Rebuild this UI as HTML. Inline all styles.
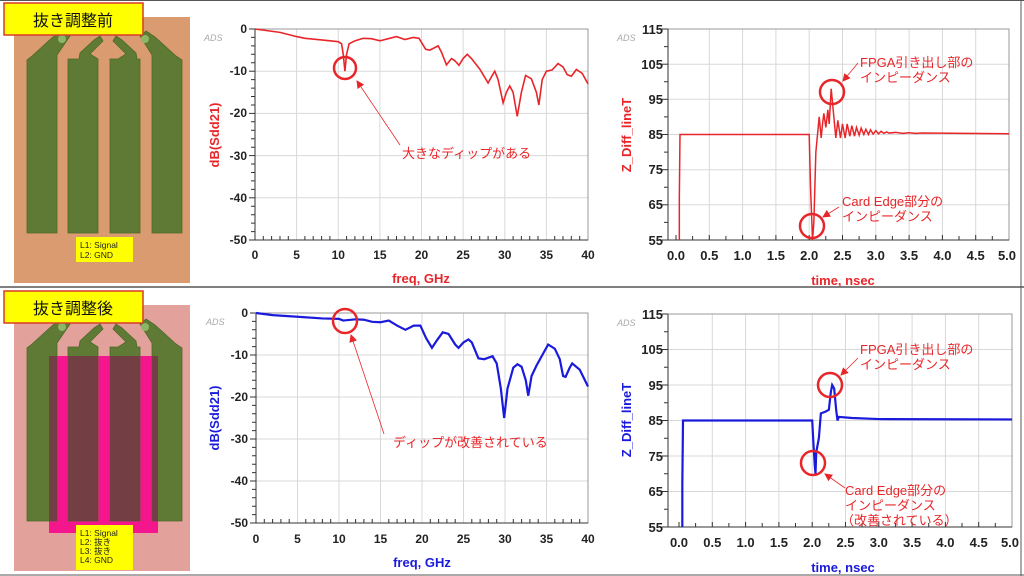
<!DOCTYPE html>
<html><head><meta charset="utf-8"><style>
html,body{margin:0;padding:0;background:#fff;}
svg{display:block;font-family:"Liberation Sans","Noto Sans CJK JP",sans-serif;}
.tk{font-size:12px;font-weight:bold;fill:#222;}
.an{font-size:13px;fill:#e8262a;}
.grid line{stroke:#d8d8d8;stroke-width:1;}
</style></head><body>
<svg width="1024" height="576" viewBox="0 0 1024 576" xmlns="http://www.w3.org/2000/svg">
<defs>
<marker id="ah" markerWidth="8" markerHeight="8" refX="7" refY="4" orient="auto" markerUnits="userSpaceOnUse"><path d="M0,0 L8,4 L0,8 z" fill="#e8262a"/></marker>
</defs>
<rect x="0" y="0" width="1024" height="576" fill="#fff"/>
<line x1="0" y1="0.5" x2="1024" y2="0.5" stroke="#555"/>
<line x1="0" y1="287" x2="1024" y2="287" stroke="#555" stroke-width="1.5"/>
<line x1="0" y1="575" x2="1024" y2="575" stroke="#555"/>
<line x1="1021" y1="0" x2="1021" y2="576" stroke="#555"/>

<!-- PCB top -->
<g>
<rect x="14" y="17" width="176" height="266" fill="#d99b6f"/>
<g fill="#5f7a34" stroke="#4e6a2a" stroke-width="0.8">
<polygon points="27,233 27,60 32,56 53,37 62,31 70,36 57,55 57,233"/>
<polygon points="68,233 68,59 79,59 80,53 94,40 100,36 103,41 90,54 98,59 98,233"/>
<polygon points="110,233 110,59 118,59 126,54 113,41 116,36 122,40 136,53 137,59 140,59 140,233"/>
<polygon points="152,233 152,55 140,36 146,31 155,37 176,56 182,60 182,233"/>
</g>
<circle cx="62" cy="39" r="4" fill="#8cb766"/>
<circle cx="145" cy="39" r="4" fill="#8cb766"/>
<rect x="76" y="237" width="57" height="25" fill="#ffff00"/>
<text x="80" y="248" font-size="8.5" fill="#222">L1: Signal</text>
<text x="80" y="258" font-size="8.5" fill="#222">L2: GND</text>
<rect x="4" y="3" width="139" height="32" fill="#ffff00" stroke="#d93a2a" stroke-width="1.5"/>
<text x="73" y="26" font-size="16" text-anchor="middle" fill="#111">抜き調整前</text>
</g>

<!-- PCB bottom -->
<g>
<rect x="14" y="305" width="176" height="266" fill="#e2a19b"/>
<rect x="49" y="356" width="109" height="177" fill="#f5168e"/>
<g fill="#5f7a34" stroke="#4e6a2a" stroke-width="0.8">
<polygon points="27,521 27,348 32,344 53,325 62,319 70,324 57,343 57,521"/>
<polygon points="68,521 68,347 79,347 80,341 94,328 100,324 103,329 90,342 98,347 98,521"/>
<polygon points="110,521 110,347 118,347 126,342 113,329 116,324 122,328 136,341 137,347 140,347 140,521"/>
<polygon points="152,521 152,343 140,324 146,319 155,325 176,344 182,348 182,521"/>
</g>
<g fill="#733f44">
<rect x="49" y="356" width="8" height="165"/>
<rect x="68" y="356" width="30" height="165"/>
<rect x="110" y="356" width="30" height="165"/>
<rect x="152" y="356" width="6" height="165"/>
</g>
<circle cx="62" cy="327" r="4" fill="#8cb766"/>
<circle cx="145" cy="327" r="4" fill="#8cb766"/>
<rect x="76" y="525" width="57" height="45" fill="#ffff00"/>
<text x="80" y="536" font-size="8.5" fill="#222">L1: Signal</text>
<text x="80" y="545" font-size="8.5" fill="#222">L2: 抜き</text>
<text x="80" y="554" font-size="8.5" fill="#222">L3: 抜き</text>
<text x="80" y="563" font-size="8.5" fill="#222">L4: GND</text>
<rect x="4" y="291" width="139" height="32" fill="#ffff00" stroke="#d93a2a" stroke-width="1.5"/>
<text x="73" y="314" font-size="16" text-anchor="middle" fill="#111">抜き調整後</text>
</g>

<!-- Chart 1 -->
<g>
<g class="grid">
<line x1="296.6" y1="29" x2="296.6" y2="240"/><line x1="338.3" y1="29" x2="338.3" y2="240"/><line x1="379.9" y1="29" x2="379.9" y2="240"/><line x1="421.5" y1="29" x2="421.5" y2="240"/><line x1="463.1" y1="29" x2="463.1" y2="240"/><line x1="504.8" y1="29" x2="504.8" y2="240"/><line x1="546.4" y1="29" x2="546.4" y2="240"/>
<line x1="255" y1="71.2" x2="588" y2="71.2"/><line x1="255" y1="113.4" x2="588" y2="113.4"/><line x1="255" y1="155.6" x2="588" y2="155.6"/><line x1="255" y1="197.8" x2="588" y2="197.8"/>
</g>
<rect x="255" y="29" width="333" height="211" fill="none" stroke="#999"/>
<line x1="255" y1="29" x2="255" y2="240" stroke="#333"/><line x1="255" y1="240" x2="588" y2="240" stroke="#333"/>
<g stroke="#333">
<line x1="249" y1="29" x2="255" y2="29"/><line x1="249" y1="71.2" x2="255" y2="71.2"/><line x1="249" y1="113.4" x2="255" y2="113.4"/><line x1="249" y1="155.6" x2="255" y2="155.6"/><line x1="249" y1="197.8" x2="255" y2="197.8"/><line x1="249" y1="240" x2="255" y2="240"/>
</g>
<path d="M251,37.4h4M251,45.9h4M251,54.3h4M251,62.8h4M251,79.6h4M251,88.1h4M251,96.5h4M251,105h4M251,121.8h4M251,130.3h4M251,138.7h4M251,147.2h4M251,164h4M251,172.5h4M251,180.9h4M251,189.4h4M251,206.2h4M251,214.7h4M251,223.1h4M251,231.6h4" stroke="#333"/>
<path d="M263.3,240v-4M271.6,240v-4M280,240v-4M288.3,240v-4M304.9,240v-4M313.2,240v-4M321.6,240v-4M329.9,240v-4M346.6,240v-4M354.9,240v-4M363.2,240v-4M371.5,240v-4M388.2,240v-4M396.5,240v-4M404.8,240v-4M413.2,240v-4M429.8,240v-4M438.1,240v-4M446.5,240v-4M454.8,240v-4M471.4,240v-4M479.7,240v-4M488.1,240v-4M496.4,240v-4M513.1,240v-4M521.4,240v-4M529.7,240v-4M538,240v-4M554.7,240v-4M563,240v-4M571.3,240v-4M579.7,240v-4" stroke="#333"/>
<g class="tk" text-anchor="end">
<text x="247" y="33">0</text><text x="247" y="75">-10</text><text x="247" y="117">-20</text><text x="247" y="160">-30</text><text x="247" y="202">-40</text><text x="247" y="244">-50</text>
</g>
<g class="tk" text-anchor="middle">
<text x="255" y="259">0</text><text x="296.6" y="259">5</text><text x="338.3" y="259">10</text><text x="379.9" y="259">15</text><text x="421.5" y="259">20</text><text x="463.1" y="259">25</text><text x="504.8" y="259">30</text><text x="546.4" y="259">35</text><text x="588" y="259">40</text>
</g>
<text x="204" y="41" font-size="9" font-style="italic" fill="#aaa">ADS</text>
<text x="421" y="283" font-size="13" font-weight="bold" fill="#e8262a" text-anchor="middle">freq, GHz</text>
<text transform="translate(219,135) rotate(-90)" font-size="13" font-weight="bold" fill="#e8262a" text-anchor="middle">dB(Sdd21)</text>
<g transform="translate(255,29) scale(8.325,-4.22)">
<polyline vector-effect="non-scaling-stroke" fill="none" stroke="#e8262a" stroke-width="1.6" points="0,0 3,-0.8 5,-1.8 6,-2.2 8,-2.6 10,-3 10.4,-3.5 10.6,-6 10.8,-10 11,-6 11.3,-3.5 12,-2.8 13,-2.2 14,-2.3 15,-2.8 16,-2.3 17,-1.8 18,-2.5 19,-2 19.7,-2.2 20.5,-4.8 21,-5 22,-4 22.4,-5.5 23,-8.5 23.6,-7 24,-7.5 24.5,-8.6 25,-7 25.5,-6 26,-7 27,-9.5 28,-12.8 28.5,-11 28.8,-10 29.2,-12 29.8,-17.5 30.2,-15 30.6,-13.5 31,-15 31.5,-20.7 32,-15 32.5,-11 33.2,-11.8 33.8,-15 34.1,-18 34.5,-12 35,-10 35.7,-9.7 36.4,-8.2 37,-9 37.5,-10.8 38,-11.2 38.6,-9.6 39.3,-10.5 40,-13"/>
</g>
<circle cx="345" cy="68" r="11" fill="none" stroke="#e8262a" stroke-width="2.5"/>
<line x1="400" y1="145" x2="357" y2="81" stroke="#e8262a" stroke-width="0.8" marker-end="url(#ah)"/>
<text x="402" y="158" class="an">大きなディップがある</text>
</g>

<!-- Chart 2 -->
<g>
<g class="grid">
<line x1="709.3" y1="29" x2="709.3" y2="240"/><line x1="742.6" y1="29" x2="742.6" y2="240"/><line x1="775.9" y1="29" x2="775.9" y2="240"/><line x1="809.2" y1="29" x2="809.2" y2="240"/><line x1="842.5" y1="29" x2="842.5" y2="240"/><line x1="875.8" y1="29" x2="875.8" y2="240"/><line x1="909.1" y1="29" x2="909.1" y2="240"/><line x1="942.4" y1="29" x2="942.4" y2="240"/><line x1="975.7" y1="29" x2="975.7" y2="240"/>
<line x1="668" y1="64.2" x2="1009" y2="64.2"/><line x1="668" y1="99.3" x2="1009" y2="99.3"/><line x1="668" y1="134.5" x2="1009" y2="134.5"/><line x1="668" y1="169.7" x2="1009" y2="169.7"/><line x1="668" y1="204.8" x2="1009" y2="204.8"/>
</g>
<rect x="668" y="29" width="341" height="211" fill="none" stroke="#999"/>
<line x1="668" y1="29" x2="668" y2="240" stroke="#333"/><line x1="668" y1="240" x2="1009" y2="240" stroke="#333"/>
<g stroke="#333">
<line x1="662" y1="29" x2="668" y2="29"/><line x1="662" y1="64.2" x2="668" y2="64.2"/><line x1="662" y1="99.3" x2="668" y2="99.3"/><line x1="662" y1="134.5" x2="668" y2="134.5"/><line x1="662" y1="169.7" x2="668" y2="169.7"/><line x1="662" y1="204.8" x2="668" y2="204.8"/><line x1="662" y1="240" x2="668" y2="240"/>
</g>
<path d="M664,46.6h4M664,81.7h4M664,116.9h4M664,152.1h4M664,187.2h4M664,222.4h4" stroke="#333"/>
<path d="M676,240v-5M692.6,240v-4M709.3,240v-5M725.9,240v-4M742.6,240v-5M759.2,240v-4M775.9,240v-5M792.5,240v-4M809.2,240v-5M825.8,240v-4M842.5,240v-5M859.1,240v-4M875.8,240v-5M892.4,240v-4M909.1,240v-5M925.7,240v-4M942.4,240v-5M959,240v-4M975.7,240v-5M992.3,240v-4" stroke="#333"/>
<g class="tk" text-anchor="end" style="font-size:13px">
<text x="663" y="34">115</text><text x="663" y="69">105</text><text x="663" y="104">95</text><text x="663" y="139">85</text><text x="663" y="174">75</text><text x="663" y="209">65</text><text x="663" y="245">55</text>
</g>
<g class="tk" text-anchor="middle" style="font-size:13px">
<text x="676" y="260">0.0</text><text x="709.3" y="260">0.5</text><text x="742.6" y="260">1.0</text><text x="775.9" y="260">1.5</text><text x="809.2" y="260">2.0</text><text x="842.5" y="260">2.5</text><text x="875.8" y="260">3.0</text><text x="909.1" y="260">3.5</text><text x="942.4" y="260">4.0</text><text x="975.7" y="260">4.5</text><text x="1007" y="260">5.0</text>
</g>
<text x="617" y="41" font-size="9" font-style="italic" fill="#aaa">ADS</text>
<text x="843" y="285" font-size="13" font-weight="bold" fill="#e8262a" text-anchor="middle">time, nsec</text>
<text transform="translate(631,135) rotate(-90)" font-size="13" font-weight="bold" fill="#e8262a" text-anchor="middle">Z_Diff_lineT</text>
<g transform="translate(676,433.4) scale(66.6,-3.517)">
<polyline vector-effect="non-scaling-stroke" fill="none" stroke="#e8262a" stroke-width="1.5" points="0.05,55 0.05,67 0.06,85 2.0,85 2.02,70 2.05,55 2.07,60 2.1,80 2.15,90 2.18,84 2.2,88 2.22,91 2.25,87 2.28,92 2.3,88 2.33,98 2.36,92 2.4,84 2.43,89 2.47,84 2.5,88 2.54,84 2.57,88 2.61,84.5 2.64,87.5 2.68,84.5 2.71,87 2.75,84.8 2.78,86.8 2.82,85 2.85,86.5 2.89,85 2.92,86.3 2.96,85.1 3.0,86.1 3.04,85.2 3.08,85.9 3.12,85.3 3.16,85.7 3.2,85.4 3.3,85.6 3.4,85.3 3.5,85.5 3.6,85.3 3.7,85.4 5,85.2"/>
</g>
<circle cx="832" cy="92" r="12" fill="none" stroke="#e8262a" stroke-width="2.5"/>
<line x1="858" y1="63" x2="843" y2="81" stroke="#e8262a" stroke-width="0.8" marker-end="url(#ah)"/>
<text x="860" y="67" class="an">FPGA引き出し部の</text>
<text x="860" y="82" class="an">インピーダンス</text>
<circle cx="812" cy="226" r="12" fill="none" stroke="#e8262a" stroke-width="2.5"/>
<line x1="839" y1="207" x2="823" y2="217" stroke="#e8262a" stroke-width="0.8" marker-end="url(#ah)"/>
<text x="842" y="206" class="an">Card Edge部分の</text>
<text x="842" y="221" class="an">インピーダンス</text>
</g>

<!-- Chart 3 -->
<g>
<g class="grid">
<line x1="297.5" y1="313" x2="297.5" y2="523"/><line x1="339" y1="313" x2="339" y2="523"/><line x1="380.5" y1="313" x2="380.5" y2="523"/><line x1="422" y1="313" x2="422" y2="523"/><line x1="463.5" y1="313" x2="463.5" y2="523"/><line x1="505" y1="313" x2="505" y2="523"/><line x1="546.5" y1="313" x2="546.5" y2="523"/>
<line x1="256" y1="355" x2="588" y2="355"/><line x1="256" y1="397" x2="588" y2="397"/><line x1="256" y1="439" x2="588" y2="439"/><line x1="256" y1="481" x2="588" y2="481"/>
</g>
<rect x="256" y="313" width="332" height="210" fill="none" stroke="#999"/>
<line x1="256" y1="313" x2="256" y2="523" stroke="#333"/><line x1="256" y1="523" x2="588" y2="523" stroke="#333"/>
<g stroke="#333">
<line x1="250" y1="313" x2="256" y2="313"/><line x1="250" y1="355" x2="256" y2="355"/><line x1="250" y1="397" x2="256" y2="397"/><line x1="250" y1="439" x2="256" y2="439"/><line x1="250" y1="481" x2="256" y2="481"/><line x1="250" y1="523" x2="256" y2="523"/>
</g>
<path d="M252,321.4h4M252,329.8h4M252,338.2h4M252,346.6h4M252,363.4h4M252,371.8h4M252,380.2h4M252,388.6h4M252,405.4h4M252,413.8h4M252,422.2h4M252,430.6h4M252,447.4h4M252,455.8h4M252,464.2h4M252,472.6h4M252,489.4h4M252,497.8h4M252,506.2h4M252,514.6h4" stroke="#333"/>
<path d="M264.3,523v-4M272.6,523v-4M280.9,523v-4M289.2,523v-4M305.8,523v-4M314.1,523v-4M322.4,523v-4M330.7,523v-4M347.3,523v-4M355.6,523v-4M363.9,523v-4M372.2,523v-4M388.8,523v-4M397.1,523v-4M405.4,523v-4M413.7,523v-4M430.3,523v-4M438.6,523v-4M446.9,523v-4M455.2,523v-4M471.8,523v-4M480.1,523v-4M488.4,523v-4M496.7,523v-4M513.3,523v-4M521.6,523v-4M529.9,523v-4M538.2,523v-4M554.8,523v-4M563.1,523v-4M571.4,523v-4M579.7,523v-4" stroke="#333"/>
<g class="tk" text-anchor="end">
<text x="248" y="317">0</text><text x="248" y="359">-10</text><text x="248" y="401">-20</text><text x="248" y="443">-30</text><text x="248" y="485">-40</text><text x="248" y="527">-50</text>
</g>
<g class="tk" text-anchor="middle">
<text x="256" y="543">0</text><text x="297.5" y="543">5</text><text x="339" y="543">10</text><text x="380.5" y="543">15</text><text x="422" y="543">20</text><text x="463.5" y="543">25</text><text x="505" y="543">30</text><text x="546.5" y="543">35</text><text x="588" y="543">40</text>
</g>
<text x="206" y="325" font-size="9" font-style="italic" fill="#aaa">ADS</text>
<text x="422" y="567" font-size="13" font-weight="bold" fill="#1a1adc" text-anchor="middle">freq, GHz</text>
<text transform="translate(219,418) rotate(-90)" font-size="13" font-weight="bold" fill="#1a1adc" text-anchor="middle">dB(Sdd21)</text>
<g transform="translate(256,313) scale(8.3,-4.2)">
<polyline vector-effect="non-scaling-stroke" fill="none" stroke="#1a1adc" stroke-width="2.2" points="0,0 2,-0.5 5,-0.9 8,-1.3 10,-1.4 10.5,-1.8 12,-1.5 13,-1.6 14,-2.1 15,-2.2 16,-1.8 17,-3 18,-4 19,-3 19.8,-3 20.5,-6 21.2,-8.3 21.8,-6.5 22.5,-4.6 23.2,-5 24,-7.5 24.4,-8.3 25,-7 25.6,-6.3 26,-7 26.8,-10.8 27.5,-11 28.5,-10.3 29,-12 29.5,-18 29.9,-25 30.3,-18 31,-13 31.5,-12.2 32,-12.8 32.5,-16 32.8,-19.7 33.2,-15 33.8,-12.5 34.5,-10 35.2,-7.5 36,-8.5 36.6,-11 37,-15 37.3,-15.2 37.8,-13 38.1,-12 39,-13.5 40,-17.5"/>
</g>
<circle cx="345" cy="321" r="12" fill="none" stroke="#e8262a" stroke-width="2.5"/>
<line x1="384" y1="434" x2="351" y2="335" stroke="#e8262a" stroke-width="0.8" marker-end="url(#ah)"/>
<text x="393" y="447" class="an">ディップが改善されている</text>
</g>

<!-- Chart 4 -->
<g>
<g class="grid">
<line x1="712.3" y1="314" x2="712.3" y2="527"/><line x1="745.6" y1="314" x2="745.6" y2="527"/><line x1="778.9" y1="314" x2="778.9" y2="527"/><line x1="812.2" y1="314" x2="812.2" y2="527"/><line x1="845.5" y1="314" x2="845.5" y2="527"/><line x1="878.8" y1="314" x2="878.8" y2="527"/><line x1="912.1" y1="314" x2="912.1" y2="527"/><line x1="945.4" y1="314" x2="945.4" y2="527"/><line x1="978.7" y1="314" x2="978.7" y2="527"/>
<line x1="668" y1="349.5" x2="1012" y2="349.5"/><line x1="668" y1="385" x2="1012" y2="385"/><line x1="668" y1="420.5" x2="1012" y2="420.5"/><line x1="668" y1="456" x2="1012" y2="456"/><line x1="668" y1="491.5" x2="1012" y2="491.5"/>
</g>
<rect x="668" y="314" width="344" height="213" fill="none" stroke="#999"/>
<line x1="668" y1="314" x2="668" y2="527" stroke="#333"/><line x1="668" y1="527" x2="1012" y2="527" stroke="#333"/>
<g stroke="#333">
<line x1="662" y1="314" x2="668" y2="314"/><line x1="662" y1="349.5" x2="668" y2="349.5"/><line x1="662" y1="385" x2="668" y2="385"/><line x1="662" y1="420.5" x2="668" y2="420.5"/><line x1="662" y1="456" x2="668" y2="456"/><line x1="662" y1="491.5" x2="668" y2="491.5"/><line x1="662" y1="527" x2="668" y2="527"/>
</g>
<path d="M664,331.8h4M664,367.3h4M664,402.8h4M664,438.3h4M664,473.8h4M664,509.3h4" stroke="#333"/>
<path d="M679,527v-5M695.6,527v-4M712.3,527v-5M728.9,527v-4M745.6,527v-5M762.2,527v-4M778.9,527v-5M795.5,527v-4M812.2,527v-5M828.8,527v-4M845.5,527v-5M862.1,527v-4M878.8,527v-5M895.4,527v-4M912.1,527v-5M928.7,527v-4M945.4,527v-5M962,527v-4M978.7,527v-5M995.3,527v-4" stroke="#333"/>
<g class="tk" text-anchor="end" style="font-size:13px">
<text x="663" y="319">115</text><text x="663" y="354">105</text><text x="663" y="390">95</text><text x="663" y="425">85</text><text x="663" y="461">75</text><text x="663" y="496">65</text><text x="663" y="532">55</text>
</g>
<g class="tk" text-anchor="middle" style="font-size:13px">
<text x="679" y="547">0.0</text><text x="712.3" y="547">0.5</text><text x="745.6" y="547">1.0</text><text x="778.9" y="547">1.5</text><text x="812.2" y="547">2.0</text><text x="845.5" y="547">2.5</text><text x="878.8" y="547">3.0</text><text x="912.1" y="547">3.5</text><text x="945.4" y="547">4.0</text><text x="978.7" y="547">4.5</text><text x="1010" y="547">5.0</text>
</g>
<text x="617" y="326" font-size="9" font-style="italic" fill="#aaa">ADS</text>
<text x="843" y="572" font-size="13" font-weight="bold" fill="#1a1adc" text-anchor="middle">time, nsec</text>
<text transform="translate(631,420) rotate(-90)" font-size="13" font-weight="bold" fill="#1a1adc" text-anchor="middle">Z_Diff_lineT</text>
<g transform="translate(679,722.25) scale(66.6,-3.55)">
<polyline vector-effect="non-scaling-stroke" fill="none" stroke="#1a1adc" stroke-width="2.2" points="0.05,55 0.05,67 0.06,85 2.0,85 2.02,78 2.04,72 2.05,70 2.06,76 2.08,78 2.1,80 2.13,87 2.2,87.5 2.25,88 2.28,93 2.3,95 2.33,94 2.36,88 2.38,85 2.4,86 2.6,85.7 3,85.4 5,85.3"/>
</g>
<circle cx="830" cy="385" r="12" fill="none" stroke="#e8262a" stroke-width="2.5"/>
<line x1="858" y1="358" x2="841" y2="375" stroke="#e8262a" stroke-width="0.8" marker-end="url(#ah)"/>
<text x="860" y="354" class="an">FPGA引き出し部の</text>
<text x="860" y="369" class="an">インピーダンス</text>
<circle cx="813" cy="463" r="12" fill="none" stroke="#e8262a" stroke-width="2.5"/>
<line x1="845" y1="488" x2="825" y2="474" stroke="#e8262a" stroke-width="0.8" marker-end="url(#ah)"/>
<text x="845" y="495" class="an">Card Edge部分の</text>
<text x="845" y="510" class="an">インピーダンス</text>
<text x="841" y="525" class="an">（改善されている）</text>
</g>
</svg>
</body></html>
